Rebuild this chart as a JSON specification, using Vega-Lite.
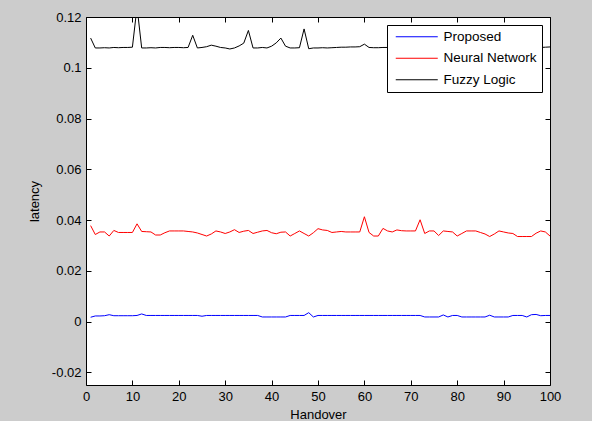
{
  "$schema": "https://vega.github.io/schema/vega-lite/v6.json",
  "width": 464,
  "height": 368,
  "autosize": {"type": "none"},
  "padding": {"left": 86, "top": 17, "right": 42, "bottom": 36},
  "background": "#cccccc",
  "config": {
    "view": {"fill": "white", "stroke": "black", "strokeWidth": 1},
    "font": "Liberation Sans",
    "axis": {
      "domain": false, "tickColor": "black", "labelColor": "black", "titleColor": "black",
      "labelFont": "Liberation Sans", "titleFont": "Liberation Sans",
      "labelFontSize": 13, "titleFontSize": 13, "titleFontWeight": "normal",
      "tickSize": 5, "offset": -5, "grid": false, "labelPadding": 5, "labelFlush": false, "labelOverlap": false
    }
  },
  "data": {"values": [
    {"h":1,"Proposed":0.0017,"Neural Network":0.0378,"Fuzzy Logic":0.1117},
    {"h":2,"Proposed":0.0022,"Neural Network":0.0343,"Fuzzy Logic":0.1078},
    {"h":3,"Proposed":0.0022,"Neural Network":0.0353,"Fuzzy Logic":0.1078},
    {"h":4,"Proposed":0.0023,"Neural Network":0.0353,"Fuzzy Logic":0.1079},
    {"h":5,"Proposed":0.0027,"Neural Network":0.0337,"Fuzzy Logic":0.1078},
    {"h":6,"Proposed":0.0023,"Neural Network":0.0359,"Fuzzy Logic":0.1080},
    {"h":7,"Proposed":0.0023,"Neural Network":0.0351,"Fuzzy Logic":0.1079},
    {"h":8,"Proposed":0.0023,"Neural Network":0.0351,"Fuzzy Logic":0.1080},
    {"h":9,"Proposed":0.0023,"Neural Network":0.0351,"Fuzzy Logic":0.1080},
    {"h":10,"Proposed":0.0023,"Neural Network":0.0351,"Fuzzy Logic":0.1081},
    {"h":11,"Proposed":0.0024,"Neural Network":0.0385,"Fuzzy Logic":0.1240},
    {"h":12,"Proposed":0.0030,"Neural Network":0.0355,"Fuzzy Logic":0.1078},
    {"h":13,"Proposed":0.0024,"Neural Network":0.0354,"Fuzzy Logic":0.1078},
    {"h":14,"Proposed":0.0024,"Neural Network":0.0353,"Fuzzy Logic":0.1079},
    {"h":15,"Proposed":0.0024,"Neural Network":0.0341,"Fuzzy Logic":0.1078},
    {"h":16,"Proposed":0.0024,"Neural Network":0.0341,"Fuzzy Logic":0.1080},
    {"h":17,"Proposed":0.0024,"Neural Network":0.0350,"Fuzzy Logic":0.1080},
    {"h":18,"Proposed":0.0024,"Neural Network":0.0357,"Fuzzy Logic":0.1079},
    {"h":19,"Proposed":0.0024,"Neural Network":0.0357,"Fuzzy Logic":0.1080},
    {"h":20,"Proposed":0.0024,"Neural Network":0.0357,"Fuzzy Logic":0.1080},
    {"h":21,"Proposed":0.0024,"Neural Network":0.0357,"Fuzzy Logic":0.1079},
    {"h":22,"Proposed":0.0024,"Neural Network":0.0355,"Fuzzy Logic":0.1080},
    {"h":23,"Proposed":0.0024,"Neural Network":0.0353,"Fuzzy Logic":0.1128},
    {"h":24,"Proposed":0.0024,"Neural Network":0.0349,"Fuzzy Logic":0.1078},
    {"h":25,"Proposed":0.0021,"Neural Network":0.0343,"Fuzzy Logic":0.1080},
    {"h":26,"Proposed":0.0024,"Neural Network":0.0337,"Fuzzy Logic":0.1083},
    {"h":27,"Proposed":0.0024,"Neural Network":0.0345,"Fuzzy Logic":0.1089},
    {"h":28,"Proposed":0.0024,"Neural Network":0.0357,"Fuzzy Logic":0.1085},
    {"h":29,"Proposed":0.0024,"Neural Network":0.0353,"Fuzzy Logic":0.1080},
    {"h":30,"Proposed":0.0024,"Neural Network":0.0347,"Fuzzy Logic":0.1078},
    {"h":31,"Proposed":0.0024,"Neural Network":0.0353,"Fuzzy Logic":0.1074},
    {"h":32,"Proposed":0.0024,"Neural Network":0.0362,"Fuzzy Logic":0.1078},
    {"h":33,"Proposed":0.0024,"Neural Network":0.0351,"Fuzzy Logic":0.1086},
    {"h":34,"Proposed":0.0024,"Neural Network":0.0356,"Fuzzy Logic":0.1097},
    {"h":35,"Proposed":0.0024,"Neural Network":0.0359,"Fuzzy Logic":0.1147},
    {"h":36,"Proposed":0.0024,"Neural Network":0.0347,"Fuzzy Logic":0.1078},
    {"h":37,"Proposed":0.0024,"Neural Network":0.0352,"Fuzzy Logic":0.1078},
    {"h":38,"Proposed":0.0018,"Neural Network":0.0357,"Fuzzy Logic":0.1080},
    {"h":39,"Proposed":0.0018,"Neural Network":0.0359,"Fuzzy Logic":0.1078},
    {"h":40,"Proposed":0.0018,"Neural Network":0.0350,"Fuzzy Logic":0.1085},
    {"h":41,"Proposed":0.0018,"Neural Network":0.0346,"Fuzzy Logic":0.1098},
    {"h":42,"Proposed":0.0018,"Neural Network":0.0352,"Fuzzy Logic":0.1117},
    {"h":43,"Proposed":0.0018,"Neural Network":0.0353,"Fuzzy Logic":0.1085},
    {"h":44,"Proposed":0.0024,"Neural Network":0.0337,"Fuzzy Logic":0.1078},
    {"h":45,"Proposed":0.0024,"Neural Network":0.0347,"Fuzzy Logic":0.1078},
    {"h":46,"Proposed":0.0024,"Neural Network":0.0357,"Fuzzy Logic":0.1079},
    {"h":47,"Proposed":0.0024,"Neural Network":0.0347,"Fuzzy Logic":0.1153},
    {"h":48,"Proposed":0.0035,"Neural Network":0.0337,"Fuzzy Logic":0.1075},
    {"h":49,"Proposed":0.0018,"Neural Network":0.0350,"Fuzzy Logic":0.1078},
    {"h":50,"Proposed":0.0024,"Neural Network":0.0366,"Fuzzy Logic":0.1078},
    {"h":51,"Proposed":0.0024,"Neural Network":0.0361,"Fuzzy Logic":0.1079},
    {"h":52,"Proposed":0.0024,"Neural Network":0.0359,"Fuzzy Logic":0.1078},
    {"h":53,"Proposed":0.0024,"Neural Network":0.0351,"Fuzzy Logic":0.1079},
    {"h":54,"Proposed":0.0024,"Neural Network":0.0353,"Fuzzy Logic":0.1080},
    {"h":55,"Proposed":0.0024,"Neural Network":0.0355,"Fuzzy Logic":0.1081},
    {"h":56,"Proposed":0.0024,"Neural Network":0.0353,"Fuzzy Logic":0.1081},
    {"h":57,"Proposed":0.0024,"Neural Network":0.0353,"Fuzzy Logic":0.1082},
    {"h":58,"Proposed":0.0024,"Neural Network":0.0353,"Fuzzy Logic":0.1082},
    {"h":59,"Proposed":0.0024,"Neural Network":0.0353,"Fuzzy Logic":0.1083},
    {"h":60,"Proposed":0.0024,"Neural Network":0.0413,"Fuzzy Logic":0.1093},
    {"h":61,"Proposed":0.0024,"Neural Network":0.0351,"Fuzzy Logic":0.1080},
    {"h":62,"Proposed":0.0024,"Neural Network":0.0337,"Fuzzy Logic":0.1079},
    {"h":63,"Proposed":0.0024,"Neural Network":0.0337,"Fuzzy Logic":0.1079},
    {"h":64,"Proposed":0.0024,"Neural Network":0.0367,"Fuzzy Logic":0.1080},
    {"h":65,"Proposed":0.0024,"Neural Network":0.0357,"Fuzzy Logic":0.1080},
    {"h":66,"Proposed":0.0024,"Neural Network":0.0353,"Fuzzy Logic":0.1080},
    {"h":67,"Proposed":0.0024,"Neural Network":0.0361,"Fuzzy Logic":0.1081},
    {"h":68,"Proposed":0.0024,"Neural Network":0.0358,"Fuzzy Logic":0.1080},
    {"h":69,"Proposed":0.0024,"Neural Network":0.0357,"Fuzzy Logic":0.1079},
    {"h":70,"Proposed":0.0024,"Neural Network":0.0357,"Fuzzy Logic":0.1080},
    {"h":71,"Proposed":0.0024,"Neural Network":0.0357,"Fuzzy Logic":0.1085},
    {"h":72,"Proposed":0.0024,"Neural Network":0.0401,"Fuzzy Logic":0.1080},
    {"h":73,"Proposed":0.0018,"Neural Network":0.0347,"Fuzzy Logic":0.1079},
    {"h":74,"Proposed":0.0018,"Neural Network":0.0357,"Fuzzy Logic":0.1080},
    {"h":75,"Proposed":0.0018,"Neural Network":0.0357,"Fuzzy Logic":0.1080},
    {"h":76,"Proposed":0.0018,"Neural Network":0.0339,"Fuzzy Logic":0.1081},
    {"h":77,"Proposed":0.0026,"Neural Network":0.0357,"Fuzzy Logic":0.1080},
    {"h":78,"Proposed":0.0018,"Neural Network":0.0355,"Fuzzy Logic":0.1079},
    {"h":79,"Proposed":0.0024,"Neural Network":0.0353,"Fuzzy Logic":0.1080},
    {"h":80,"Proposed":0.0024,"Neural Network":0.0337,"Fuzzy Logic":0.1080},
    {"h":81,"Proposed":0.0018,"Neural Network":0.0347,"Fuzzy Logic":0.1081},
    {"h":82,"Proposed":0.0018,"Neural Network":0.0357,"Fuzzy Logic":0.1080},
    {"h":83,"Proposed":0.0018,"Neural Network":0.0357,"Fuzzy Logic":0.1080},
    {"h":84,"Proposed":0.0018,"Neural Network":0.0357,"Fuzzy Logic":0.1079},
    {"h":85,"Proposed":0.0018,"Neural Network":0.0351,"Fuzzy Logic":0.1080},
    {"h":86,"Proposed":0.0018,"Neural Network":0.0345,"Fuzzy Logic":0.1080},
    {"h":87,"Proposed":0.0025,"Neural Network":0.0335,"Fuzzy Logic":0.1081},
    {"h":88,"Proposed":0.0018,"Neural Network":0.0345,"Fuzzy Logic":0.1080},
    {"h":89,"Proposed":0.0018,"Neural Network":0.0357,"Fuzzy Logic":0.1080},
    {"h":90,"Proposed":0.0018,"Neural Network":0.0353,"Fuzzy Logic":0.1079},
    {"h":91,"Proposed":0.0018,"Neural Network":0.0349,"Fuzzy Logic":0.1080},
    {"h":92,"Proposed":0.0024,"Neural Network":0.0347,"Fuzzy Logic":0.1080},
    {"h":93,"Proposed":0.0024,"Neural Network":0.0335,"Fuzzy Logic":0.1081},
    {"h":94,"Proposed":0.0024,"Neural Network":0.0335,"Fuzzy Logic":0.1080},
    {"h":95,"Proposed":0.0018,"Neural Network":0.0335,"Fuzzy Logic":0.1080},
    {"h":96,"Proposed":0.0027,"Neural Network":0.0335,"Fuzzy Logic":0.1080},
    {"h":97,"Proposed":0.0028,"Neural Network":0.0348,"Fuzzy Logic":0.1081},
    {"h":98,"Proposed":0.0023,"Neural Network":0.0357,"Fuzzy Logic":0.1080},
    {"h":99,"Proposed":0.0024,"Neural Network":0.0353,"Fuzzy Logic":0.1081},
    {"h":100,"Proposed":0.0024,"Neural Network":0.0337,"Fuzzy Logic":0.1082}
  ]},
  "transform": [{"fold": ["Proposed", "Neural Network", "Fuzzy Logic"], "as": ["series", "latency"]}],
  "layer": [
    {
      "mark": {"type": "line", "strokeWidth": 1, "clip": true},
      "encoding": {
        "x": {"field": "h", "type": "quantitative",
          "scale": {"domain": [0, 100], "nice": false, "zero": false},
          "axis": {"title": "Handover", "values": [0,10,20,30,40,50,60,70,80,90,100], "orient": "bottom", "titlePadding": 5}},
        "y": {"field": "latency", "type": "quantitative",
          "scale": {"domain": [-0.025, 0.12], "nice": false, "zero": false},
          "axis": {"title": "latency", "values": [-0.02,0,0.02,0.04,0.06,0.08,0.1,0.12], "orient": "left", "titlePadding": 10,
            "labelExpr": "datum.value < 0 ? '-' + format(-datum.value, '.2~f') : format(datum.value, '.2~f')"}},
        "color": {"field": "series", "type": "nominal",
          "scale": {"domain": ["Proposed", "Neural Network", "Fuzzy Logic"], "range": ["#0000ff", "#ff0000", "#000000"]},
          "legend": {"orient": "none", "legendX": 301, "legendY": 8, "title": null,
            "symbolType": "M-4.2,0L4.2,0", "symbolSize": 100, "symbolStrokeWidth": 1, "symbolOffset": 18,
            "labelFont": "Liberation Sans", "labelFontSize": 13.5, "labelColor": "black",
            "strokeColor": "black", "fillColor": "white", "padding": 5, "labelOffset": 20, "rowPadding": 6.5}}
      }
    },
    {
      "mark": {"type": "point", "opacity": 0},
      "encoding": {
        "x": {"field": "h", "type": "quantitative",
          "axis": {"orient": "top", "labels": false, "title": null, "values": [0,10,20,30,40,50,60,70,80,90,100]}},
        "y": {"field": "latency", "type": "quantitative",
          "axis": {"orient": "right", "labels": false, "title": null, "values": [-0.02,0,0.02,0.04,0.06,0.08,0.1,0.12]}}
      }
    }
  ],
  "resolve": {"axis": {"x": "independent", "y": "independent"}}
}
